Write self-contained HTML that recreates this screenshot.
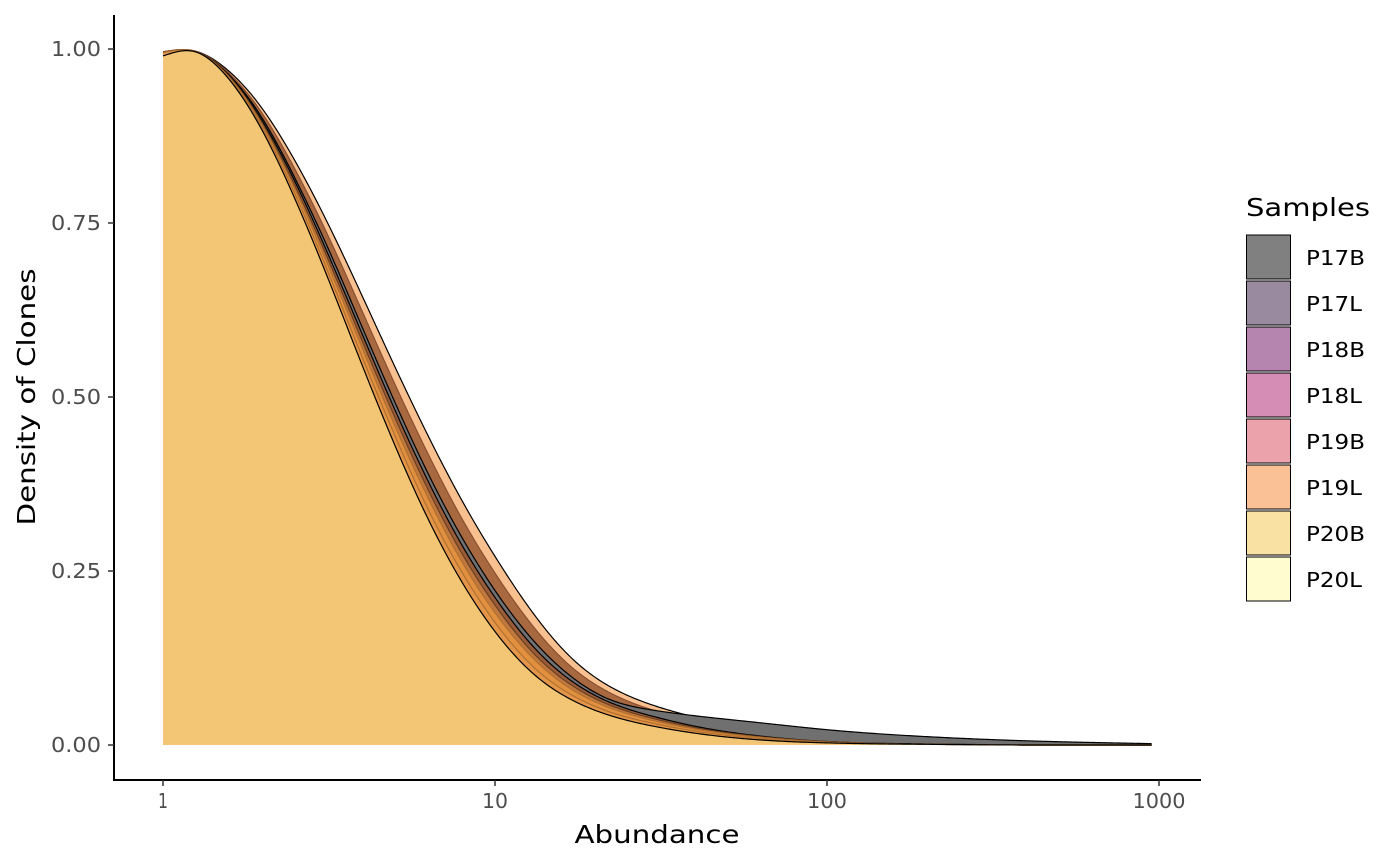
<!DOCTYPE html>
<html><head><meta charset="utf-8"><style>
body{margin:0;background:#fff;}
svg{display:block;font-family:"DejaVu Sans","Liberation Sans",sans-serif;}
</style></head><body>
<svg id="chart" width="1400" height="865" viewBox="0 0 1400 865">
<g id="areas"></g>
<g id="axes"></g>
<g id="legend"></g>
</svg>
<script>
const xPoints = [1,1.25,1.5,2,2.5,3,4,5,6,8,10,13,17,22,30,40,60,100,200,400,950];
const sampleNames = ["P17B","P17L","P18B","P18L","P19B","P19L","P20B","P20L"];
const legendColors = ["#808080","#9a8aa0","#b585b0","#d58cb5","#eba2ab","#f9c195","#f9e0a3","#fffdd0"];
const drawColors = ["#707070","#a86840","#9a5c38","#c0783e","#e0903e","#f9c08f","#e3964a","#f2c674"];
const strokeColors = ["#000","#8a5030","#000","#6a4020","#b07030","#000","#b07030","#000"];
const P19L = [0.996,0.997,0.977,0.913,0.839,0.768,0.643,0.543,0.464,0.349,0.271,0.19,0.125,0.085,0.057,0.04,0.022,0.008,0.002,0.0005,0];
const P17L = [0.996,0.997,0.975,0.906,0.827,0.752,0.621,0.518,0.438,0.323,0.247,0.171,0.112,0.076,0.05,0.035,0.019,0.007,0.002,0,0];
const P17B = [0.995,0.996,0.973,0.899,0.814,0.735,0.598,0.492,0.41,0.296,0.222,0.151,0.098,0.066,0.05,0.042,0.033,0.022,0.012,0.006,0.002];
const P18B = [0.995,0.996,0.973,0.895,0.809,0.727,0.588,0.481,0.399,0.285,0.212,0.142,0.092,0.062,0.041,0.027,0.014,0.005,0.0015,0,0];
const P18L = [0.995,0.996,0.972,0.892,0.803,0.72,0.578,0.47,0.387,0.273,0.201,0.133,0.086,0.058,0.038,0.025,0.013,0.005,0.001,0,0];
const P19B = [0.995,0.996,0.971,0.889,0.798,0.712,0.568,0.458,0.375,0.261,0.19,0.125,0.08,0.054,0.035,0.023,0.012,0.004,0.001,0,0];
const P20B = [0.995,0.996,0.97,0.885,0.791,0.703,0.555,0.444,0.359,0.246,0.176,0.113,0.072,0.048,0.031,0.02,0.01,0.0036,0.001,0,0];
const P20L = [0.99,0.996,0.969,0.881,0.784,0.694,0.543,0.43,0.345,0.232,0.163,0.103,0.065,0.043,0.027,0.017,0.008,0.003,0.001,0,0];
const drawOrder = ["P19L","P17L","P17B","P18B","P18L","P19B","P20B","P20L"];
const seriesMap = {P17B,P17L,P18B,P18L,P19B,P19L,P20B,P20L};
const yTicks = [0,0.25,0.5,0.75,1];
const yTickLabels = ["0.00","0.25","0.50","0.75","1.00"];
const xTicks = [1,10,100,1000];
const xTickLabels = ["1","10","100","1000"];

const NS="http://www.w3.org/2000/svg";
const sx = v => 163 + Math.log10(v)*332;
const sy = v => 745 - v*696;
function mk(tag, attrs, parent){const e=document.createElementNS(NS,tag);for(const k in attrs)e.setAttribute(k,attrs[k]);parent.appendChild(e);return e;}

function splinePts(X, Y){
  const n=X.length, h=[], al=[], l=[1], mu=[0], z=[0], c=new Array(n).fill(0), b=[], d=[];
  for(let i=0;i<n-1;i++) h.push(X[i+1]-X[i]);
  for(let i=1;i<n-1;i++) al[i]=3/h[i]*(Y[i+1]-Y[i])-3/h[i-1]*(Y[i]-Y[i-1]);
  for(let i=1;i<n-1;i++){l[i]=2*(X[i+1]-X[i-1])-h[i-1]*mu[i-1];mu[i]=h[i]/l[i];z[i]=(al[i]-h[i-1]*z[i-1])/l[i];}
  for(let j=n-2;j>=0;j--){ if(j>0) c[j]=z[j]-mu[j]*c[j+1]; else c[j]=0;
    b[j]=(Y[j+1]-Y[j])/h[j]-h[j]*(c[j+1]+2*c[j])/3; d[j]=(c[j+1]-c[j])/(3*h[j]); }
  const out=[];
  for(let j=0;j<n-1;j++){
    const steps=Math.max(4,Math.ceil(h[j]/2));
    for(let s=0;s<steps;s++){const t=h[j]*s/steps;
      let y=Y[j]+b[j]*t+c[j]*t*t+d[j]*t*t*t;
      y=Math.min(745,Math.max(sy(1),y));
      out.push([X[j]+t,y]);}
  }
  out.push([X[n-1],Y[n-1]]);
  return out;
}
const areas=document.getElementById('areas');
drawOrder.forEach(name=>{
  const vals=seriesMap[name];
  const idx=sampleNames.indexOf(name);
  const pts=splinePts(xPoints.map(sx), vals.map(sy));
  const line="M"+pts.map(p=>p[0].toFixed(2)+","+p[1].toFixed(2)).join(" L");
  const fill=mk('path',{d:line+" L"+sx(xPoints[xPoints.length-1])+","+sy(0)+" L"+sx(1)+","+sy(0)+" Z",fill:drawColors[idx],stroke:"none"},areas);
  
  
  const ln=mk('path',{d:line,fill:"none",stroke:strokeColors[idx],"stroke-width":1.2,"stroke-linejoin":"round"},areas);
  
  
});

const axes=document.getElementById('axes');
mk('line',{x1:114,y1:15,x2:114,y2:781,stroke:"#000","stroke-width":2},axes);
mk('line',{x1:113,y1:780,x2:1201,y2:780,stroke:"#000","stroke-width":2},axes);
const xLabW=[10,26,40,53];
yTicks.forEach((v,i)=>{
  const t=mk('line',{x1:108,x2:114,y1:sy(v),y2:sy(v),stroke:"#333","stroke-width":1.5},axes);
  
  
  const l=mk('text',{x:101,y:sy(v)+7,"text-anchor":"end","font-size":20,fill:"#4d4d4d",textLength:50,lengthAdjust:"spacingAndGlyphs"},axes);
  l.textContent=yTickLabels[i];
  
  
});
xTicks.forEach((v,i)=>{
  const t=mk('line',{x1:sx(v),x2:sx(v),y1:780,y2:786,stroke:"#333","stroke-width":1.5},axes);
  
  
  const l=mk('text',{x:sx(v),y:808,"text-anchor":"middle","font-size":20,fill:"#4d4d4d",textLength:xLabW[i],lengthAdjust:"spacingAndGlyphs"},axes);
  l.textContent=xTickLabels[i];
  
  
});
const xt=mk('text',{x:657,y:843,"text-anchor":"middle","font-size":25,fill:"#000",textLength:165,lengthAdjust:"spacingAndGlyphs"},axes);
xt.textContent="Abundance";


const yt=mk('text',{x:0,y:0,transform:"translate(35,397) rotate(-90)","text-anchor":"middle","font-size":25,fill:"#000",textLength:257,lengthAdjust:"spacingAndGlyphs"},axes);
yt.textContent="Density of Clones";



const lg=document.getElementById('legend');
const lt=mk('text',{x:1246,y:216,"font-size":25,fill:"#000",textLength:124,lengthAdjust:"spacingAndGlyphs"},lg);
lt.textContent="Samples";


sampleNames.forEach((n,i)=>{
  const y=235+i*46;
  const r=mk('rect',{x:1246.5,y:y,width:44,height:44,fill:legendColors[i],stroke:"#000","stroke-width":1},lg);
  
  
  const t=mk('text',{x:1306,y:y+30,"font-size":20,fill:"#000",textLength:(n.endsWith("B")?59:56),lengthAdjust:"spacingAndGlyphs"},lg);
  t.textContent=n;
  
  
});
</script>
</body></html>
